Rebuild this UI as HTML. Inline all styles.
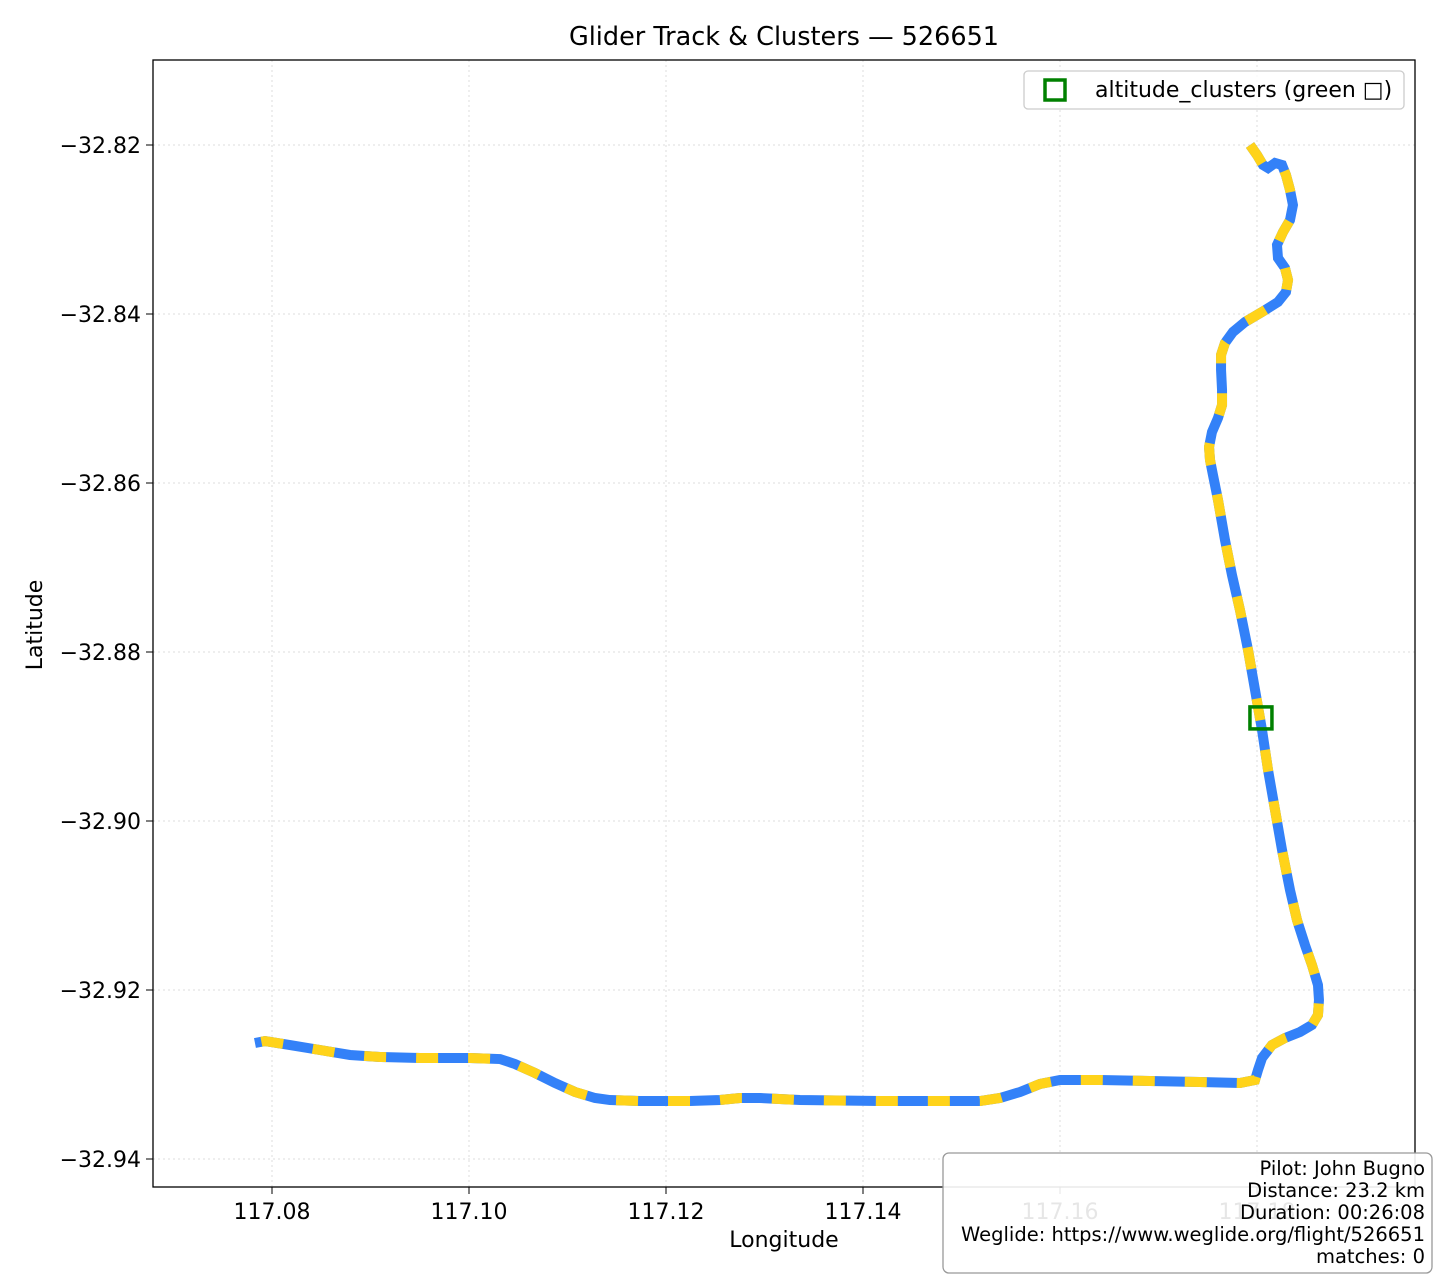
<!DOCTYPE html>
<html><head><meta charset="utf-8"><style>
body{margin:0;background:#fff;font-family:"Liberation Sans","DejaVu Sans",sans-serif}
</style></head><body>
<svg id="chart" width="1440" height="1280" xmlns="http://www.w3.org/2000/svg" font-family="DejaVu Sans, Liberation Sans, sans-serif">
<rect width="1440" height="1280" fill="#fff"/>
<text x="784" y="45" font-size="25.5" text-anchor="middle">Glider Track &amp; Clusters — 526651</text>
<g id="grid"></g>
<g id="ticks"></g>
<g id="track"></g>
<g id="clusters"></g>
<rect x="153" y="60" width="1262" height="1127" fill="none" stroke="#000" stroke-width="1.3"/>
<text x="784" y="1247" font-size="22" text-anchor="middle">Longitude</text>
<text x="42" y="625" font-size="22" text-anchor="middle" transform="rotate(-90 42 625)">Latitude</text>
<g>
<rect x="1024" y="71" width="380" height="38" rx="4" fill="#fff" fill-opacity="0.85" stroke="#ccc" stroke-width="1.3"/>
<rect x="1045" y="80" width="20" height="20" fill="none" stroke="#008000" stroke-width="3.5"/>
<text x="1095" y="97" font-size="22">altitude_clusters (green □)</text>
</g>
<g>
<rect x="943" y="1153" width="489" height="120" rx="6" fill="#fff" fill-opacity="0.9" stroke="#999" stroke-width="1.3"/>
<g font-size="19.5" text-anchor="end">
<text x="1425" y="1175">Pilot: John Bugno</text>
<text x="1425" y="1197">Distance: 23.2 km</text>
<text x="1425" y="1219">Duration: 00:26:08</text>
<text x="1425" y="1241">Weglide: https://www.weglide.org/flight/526651</text>
<text x="1425" y="1263">matches: 0</text>
</g></g>
</svg>
<script>
const xTicks=[117.08,117.10,117.12,117.14,117.16,117.18];
const yTicks=[-32.82,-32.84,-32.86,-32.88,-32.90,-32.92,-32.94];
const clusterLon=[117.1804];
const clusterLat=[-32.8878];
const trackPx=[[1250,145],[1257,155],[1263,165],[1268,168],[1275,163],[1282,165],[1286,175],[1290,190],[1293,205],[1290,220],[1283,232],[1277,245],[1278,258],[1285,268],[1288,280],[1286,292],[1278,302],[1262,312],[1245,322],[1233,332],[1225,343],[1221,355],[1221,370],[1222,390],[1222,405],[1218,418],[1212,432],[1209,447],[1210,460],[1213,475],[1218,500],[1225,540],[1232,575],[1240,610],[1248,650],[1255,690],[1262,730],[1268,770],[1275,810],[1282,850],[1290,890],[1297,920],[1305,945],[1312,965],[1318,985],[1319,1000],[1318,1015],[1312,1025],[1300,1032],[1285,1038],[1272,1045],[1262,1058],[1258,1070],[1255,1080],[1240,1083],[1200,1082],[1150,1081],[1100,1080],[1060,1080],[1040,1084],[1020,1092],[1000,1098],[980,1101],[940,1101],[880,1101],[800,1100],[760,1098],[740,1098],[720,1100],[690,1101],[640,1101],[610,1100],[595,1098],[575,1092],[555,1083],[535,1073],[515,1064],[500,1059],[470,1058],[420,1058],[380,1057],[350,1055],[320,1050],[290,1045],[265,1041],[255,1043]];
const trackLon=trackPx.map(p=>+(117.08+(p[0]-272)/9850).toFixed(5));
const trackLat=trackPx.map(p=>+(-32.82-(p[1]-145)/8450).toFixed(5));
const NS='http://www.w3.org/2000/svg';
const X=v=>272+(v-117.08)*9850;
const Y=v=>145+(-32.82-v)*8450;
function mk(t,a,p){const e=document.createElementNS(NS,t);for(const k in a)e.setAttribute(k,a[k]);p.appendChild(e);return e;}
const grid=document.getElementById('grid'),ticks=document.getElementById('ticks');
xTicks.forEach(v=>{const x=X(v);
const g=mk('line',{x1:x,x2:x,y1:60,y2:1187,stroke:'#ddd','stroke-dasharray':'2 3'},grid);


mk('line',{x1:x,x2:x,y1:1187,y2:1194,stroke:'#000'},ticks);
const t=mk('text',{x:x,y:1219,'font-size':22,'text-anchor':'middle'},ticks);t.textContent=v.toFixed(2);

});
yTicks.forEach(v=>{const y=Y(v);
const g=mk('line',{x1:153,x2:1415,y1:y,y2:y,stroke:'#ddd','stroke-dasharray':'2 3'},grid);


mk('line',{x1:146,x2:153,y1:y,y2:y,stroke:'#000'},ticks);
const t=mk('text',{x:141,y:y+8,'font-size':22,'text-anchor':'end'},ticks);t.textContent='\u2212'+Math.abs(v).toFixed(2);

});
const tr=document.getElementById('track');
const pts=trackLon.map((v,i)=>X(v)+','+Y(trackLat[i])).join(' ');
const b=mk('polyline',{points:pts,fill:'none',stroke:'#3381f8','stroke-width':10},tr);


const yl=mk('polyline',{points:pts,fill:'none',stroke:'#ffd31a','stroke-width':10,'stroke-dasharray':'22 30'},tr);


const cl=document.getElementById('clusters');
clusterLon.forEach((v,i)=>{const r=mk('rect',{x:X(v)-11,y:Y(clusterLat[i])-11,width:22,height:22,fill:'none',stroke:'#008000','stroke-width':3.5},cl);

});
</script>
</body></html>
